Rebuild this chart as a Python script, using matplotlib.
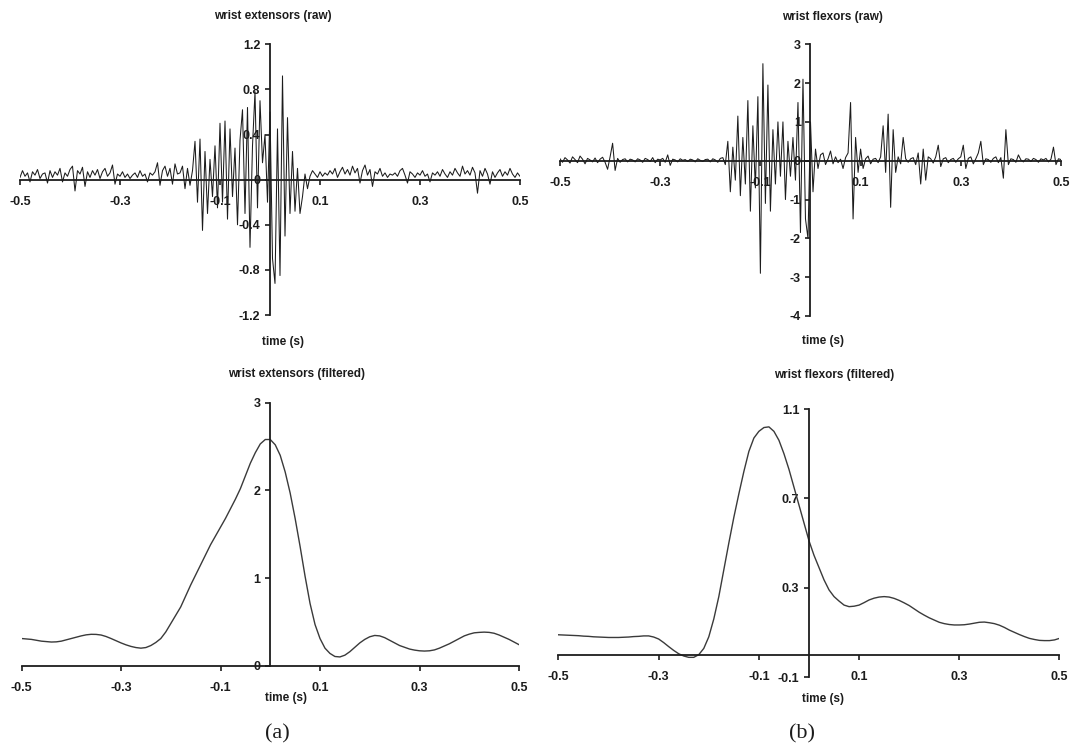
import matplotlib.pyplot as plt
import numpy as np

# sample times (s)
t_raw = np.round(np.arange(201) * 0.005 - 0.5, 3)
t_filt = np.round(np.arange(101) * 0.01 - 0.5, 2)

ext_raw = [
    0.02, 0.08, 0.03, 0.06, -0.02, 0.07, 0.04, 0.09, 0.01, 0.05,
    0.06, -0.03, 0.08, 0.02, 0.07, 0.04, 0.10, -0.02, 0.06, 0.03,
    0.09, 0.12, -0.10, 0.08, 0.05, 0.11, -0.06, 0.07, 0.02, 0.08,
    0.04, 0.09, 0.01, 0.07, 0.10, 0.03, 0.06, 0.13, -0.04, 0.05,
    0.03, 0.07, 0.02, 0.05, 0.01, 0.04, 0.06, 0.02, 0.08, 0.03,
    0.05, -0.02, 0.06, 0.04, 0.07, 0.15, -0.05, 0.08, 0.12, 0.03,
    0.10, -0.04, 0.14, 0.05, 0.06, 0.12, -0.08, 0.10, -0.05, 0.08,
    0.34, -0.20, 0.36, -0.45, 0.25, -0.30, 0.18, -0.15, 0.30, -0.25,
    0.50, -0.20, 0.52, -0.35, 0.45, -0.15, 0.28, -0.40, 0.35, 0.62,
    -0.30, 0.64, -0.60, 0.30, 0.78, -0.25, 0.70, 0.15, 0.40, -0.20,
    0.60, -0.70, -0.92, 0.45, -0.85, 0.92, -0.50, 0.55, -0.30, 0.25,
    -0.28, 0.10, -0.30, -0.15, 0.05, -0.08, 0.03, 0.08, 0.05, 0.02,
    0.07, 0.03, 0.06, 0.04, 0.08, 0.05, 0.10, 0.02, 0.07, 0.11,
    0.05, 0.09, 0.04, 0.12, 0.06, 0.10, -0.03, 0.08, 0.13, 0.04,
    0.09, -0.06, 0.07, 0.05, 0.10, 0.03, 0.06, 0.02, 0.05, 0.04,
    0.06, 0.03, 0.08, 0.10, 0.04, -0.03, 0.07, 0.05, 0.02, 0.06,
    0.04, 0.08, 0.03, 0.05, -0.02, 0.06, 0.04, 0.07, 0.03, 0.09,
    0.05, 0.02, 0.07, 0.04, 0.10, 0.06, 0.03, 0.12, 0.05, 0.08,
    0.04, 0.11, 0.06, -0.12, 0.08, 0.03, 0.10, 0.05, -0.04, 0.07,
    0.02, 0.06, 0.09, 0.03, 0.07, 0.04, 0.10, 0.05, 0.02, 0.06,
    0.03,
]

flex_raw = [
    0.05, -0.04, 0.08, 0.02, -0.06, 0.10, 0.03, -0.05, 0.12, 0.04,
    -0.08, 0.06, 0.02, -0.03, 0.07, -0.05, 0.04, 0.09, -0.04, -0.22,
    0.10, 0.45, -0.25, 0.06, -0.04, 0.03, 0.05, -0.03, 0.04, 0.02,
    -0.03, 0.05, 0.02, -0.04, 0.06, 0.03, -0.02, 0.08, -0.05, 0.04,
    0.02, 0.06, -0.04, 0.15, -0.12, 0.04, 0.02, -0.03, 0.05, 0.01,
    0.03, -0.02, 0.04, 0.02, -0.03, 0.05, 0.01, -0.02, 0.03, 0.04,
    -0.03, 0.05, 0.02, -0.04, 0.06, 0.08, -0.10, 0.50, -0.80, 0.35,
    -0.50, 1.15, -0.90, 0.60, -0.60, 1.55, -1.30, 0.90, -0.70, 1.65,
    -2.90, 2.50, -1.10, 1.95, -1.30, 0.80, -0.60, 1.00, -0.40, 1.00,
    -1.00, 0.50, -0.40, 0.60, -0.50, 1.50, -1.85, 2.10, -1.50, -2.00,
    1.00, -0.80, 0.30, -0.20, 0.15, 0.20, -0.10, 0.05, 0.25, -0.08,
    0.10, -0.05, 0.04, -0.20, 0.08, 0.20, 1.50, -1.50, 0.60, -0.30,
    0.30, -0.20, 0.05, 0.12, -0.08, 0.04, 0.06, -0.05, 0.10, 0.90,
    -0.30, 1.20, -1.20, 0.80, -0.30, 0.10, -0.08, 0.60, 0.05, -0.04,
    0.05, 0.08, -0.10, 0.20, -0.60, 0.30, -0.50, 0.10, 0.05, -0.06,
    0.10, 0.40, -0.15, 0.05, 0.08, -0.05, 0.03, 0.06, -0.04, 0.05,
    0.10, 0.40, -0.20, 0.06, 0.10, -0.08, 0.05, 0.20, 0.50, -0.10,
    0.05, 0.03, -0.04, 0.06, 0.10, -0.05, 0.08, -0.45, 0.80, -0.10,
    0.05, 0.03, -0.04, 0.15, 0.02, -0.03, 0.05, 0.04, -0.02, 0.06,
    0.03, -0.04, 0.05, 0.02, 0.06, -0.03, 0.04, 0.35, -0.10, 0.05,
    0.03,
]

ext_filt = [
    0.310, 0.305, 0.300, 0.290, 0.280, 0.275, 0.270, 0.272, 0.280, 0.295,
    0.310, 0.325, 0.340, 0.352, 0.358, 0.357, 0.350, 0.333, 0.310, 0.285,
    0.260, 0.238, 0.220, 0.207, 0.200, 0.207, 0.230, 0.265, 0.310, 0.385,
    0.480, 0.575, 0.670, 0.795, 0.920, 1.035, 1.150, 1.265, 1.380, 1.480,
    1.580, 1.680, 1.790, 1.900, 2.020, 2.165, 2.310, 2.430, 2.530, 2.580,
    2.580, 2.520, 2.400, 2.210, 1.970, 1.680, 1.360, 1.020, 0.710, 0.470,
    0.310, 0.200, 0.140, 0.105, 0.100, 0.120, 0.160, 0.210, 0.260, 0.300,
    0.330, 0.345, 0.340, 0.320, 0.290, 0.260, 0.230, 0.210, 0.190, 0.178,
    0.170, 0.167, 0.170, 0.180, 0.200, 0.225, 0.250, 0.280, 0.310, 0.340,
    0.360, 0.375, 0.380, 0.383, 0.380, 0.370, 0.350, 0.325, 0.300, 0.270,
    0.240,
]

flex_filt = [
    0.089, 0.088, 0.087, 0.086, 0.085, 0.083, 0.082, 0.080, 0.079, 0.078,
    0.077, 0.077, 0.077, 0.078, 0.079, 0.081, 0.082, 0.084, 0.084, 0.079,
    0.070, 0.054, 0.036, 0.019, 0.004, -0.006, -0.012, -0.012, 0.000, 0.028,
    0.080, 0.160, 0.260, 0.380, 0.500, 0.615, 0.720, 0.820, 0.910, 0.970,
    1.000, 1.017, 1.020, 1.000, 0.960, 0.900, 0.830, 0.750, 0.670, 0.590,
    0.510, 0.445, 0.390, 0.335, 0.290, 0.260, 0.240, 0.222, 0.215, 0.217,
    0.222, 0.233, 0.245, 0.253, 0.258, 0.260, 0.258, 0.252, 0.243, 0.232,
    0.220, 0.205, 0.190, 0.177, 0.165, 0.155, 0.145, 0.139, 0.135, 0.133,
    0.133, 0.134, 0.137, 0.141, 0.145, 0.146, 0.143, 0.139, 0.132, 0.122,
    0.110, 0.100, 0.090, 0.081, 0.073, 0.068, 0.064, 0.063, 0.063, 0.066,
    0.073,
]

xticks = [-0.5, -0.3, -0.1, 0.1, 0.3, 0.5]
xticklabels = ["-0.5", "-0.3", "-0.1", "0.1", "0.3", "0.5"]

plt.rcParams["font.family"] = ["Liberation Sans", "DejaVu Sans"]
plt.rcParams["font.weight"] = "bold"
ink = "#1c1c1c"

fig = plt.figure(figsize=(10.73, 7.5), dpi=100)


def setup(ax, ylim, yticks, ylabels):
    ax.set_xlim(-0.5, 0.5)
    ax.set_ylim(*ylim)
    for s in ["top", "right"]:
        ax.spines[s].set_visible(False)
    ax.spines["left"].set_position(("data", 0))
    ax.spines["bottom"].set_position(("data", 0))
    for s in ["left", "bottom"]:
        ax.spines[s].set_linewidth(1.3)
        ax.spines[s].set_color(ink)
    ax.set_xticks(xticks)
    ax.set_xticklabels(xticklabels)
    ax.set_yticks(yticks)
    ax.set_yticklabels(ylabels)
    ax.tick_params(axis="x", direction="out", length=3.5, width=1.2,
                   pad=8.5, labelsize=9, colors=ink)
    ax.tick_params(axis="y", direction="out", length=3.5, width=1.2,
                   pad=3.5, labelsize=9, colors=ink)
    ax.patch.set_alpha(0)


# (a) wrist extensors raw
ax1 = fig.add_axes([0.01864, 0.58, 0.46598, 0.3609])
ax1.plot(t_raw, ext_raw, color=ink, lw=0.75)
setup(ax1, (-1.2, 1.2), [-1.2, -0.8, -0.4, 0, 0.4, 0.8, 1.2],
      ["-1.2", "-0.8", "-0.4", "0", "0.4", "0.8", "1.2"])

# (b) wrist flexors raw
ax2 = fig.add_axes([0.5219, 0.57867, 0.4669, 0.3623])
ax2.plot(t_raw, flex_raw, color=ink, lw=0.75)
setup(ax2, (-4, 3), [-4, -3, -2, -1, 0, 1, 2, 3],
      ["-4", "-3", "-2", "-1", "0", "1", "2", "3"])

# (a) wrist extensors filtered
ax3 = fig.add_axes([0.02004, 0.1124, 0.46365, 0.35067])
ax3.plot(t_filt, ext_filt, color="#3a3a3a", lw=1.0)
setup(ax3, (0, 3), [0, 1, 2, 3], ["0", "1", "2", "3"])

# (b) wrist flexors filtered
ax4 = fig.add_axes([0.5205, 0.09733, 0.4669, 0.35733])
ax4.plot(t_filt, flex_filt, color="#3a3a3a", lw=1.0)
setup(ax4, (-0.1, 1.1), [-0.1, 0.3, 0.7, 1.1], ["-0.1", "0.3", "0.7", "1.1"])

W, H = 1073.0, 750.0


def ftext(x, y, s, **kw):
    fig.text(x / W, 1 - y / H, s, ha="center", va="center", color=ink, **kw)


ftext(273, 16, "wrist extensors (raw)", fontsize=8.5, fontweight="bold")
ftext(832, 17, "wrist flexors (raw)", fontsize=8.5, fontweight="bold")
ftext(297, 374, "wrist extensors (filtered)", fontsize=8.5, fontweight="bold")
ftext(834, 375, "wrist flexors (filtered)", fontsize=8.5, fontweight="bold")

ftext(283, 342, "time (s)", fontsize=8.5, fontweight="bold")
ftext(823, 341, "time (s)", fontsize=8.5, fontweight="bold")
ftext(286, 698, "time (s)", fontsize=8.5, fontweight="bold")
ftext(823, 699, "time (s)", fontsize=8.5, fontweight="bold")

ftext(277, 734, "(a)", fontsize=16, fontweight="normal",
      family=["Liberation Serif", "DejaVu Serif"])
ftext(802, 734, "(b)", fontsize=16, fontweight="normal",
      family=["Liberation Serif", "DejaVu Serif"])

fig.savefig("out.png", dpi=100, facecolor="white")
